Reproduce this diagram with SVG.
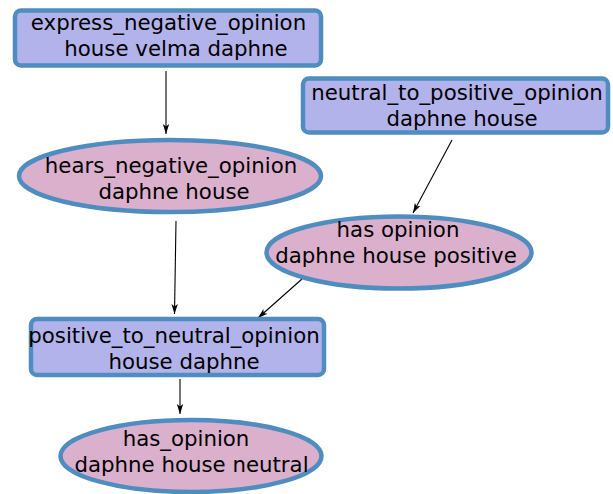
<svg xmlns="http://www.w3.org/2000/svg" width="613" height="494" viewBox="0 0 613 494">
<style>
.act{fill:#b3b3eb;stroke:#4f8cc0;stroke-width:4.5}
.st{fill:#dab0cc;stroke:#4f8cc0;stroke-width:4.5}
text{font-family:"DejaVu Sans",sans-serif;font-size:21.3px;fill:#000;text-anchor:middle}
.e{stroke:#000;stroke-width:1.1;fill:none;marker-end:url(#ah)}
</style>
<defs>
<marker id="ah" viewBox="0 0 10 8" refX="10" refY="4" markerWidth="10" markerHeight="8" markerUnits="userSpaceOnUse" orient="auto">
<path d="M0,0.8 L10,4 L0,7.2 L2.5,4 z" fill="#000"/>
</marker>
</defs>
<g id="edges">
<path class="e" d="M166,71 L166,134"/>
<path class="e" d="M176,221 L174.5,314"/>
<path class="e" d="M452,140 L413,213"/>
<path class="e" d="M302,279 L258,318"/>
<path class="e" d="M180,379 L180,414"/>
</g>
<g id="express_negative_opinion">
<rect class="act" x="15" y="10.5" width="306" height="55" rx="6"/>
<text x="168.5" y="30">express_negative_opinion</text>
<text x="176" y="56">house velma daphne</text>
</g>
<g id="neutral_to_positive_opinion">
<rect class="act" x="303" y="78.5" width="305" height="54" rx="6"/>
<text x="457" y="100">neutral_to_positive_opinion</text>
<text x="462" y="126">daphne house</text>
</g>
<g id="hears_negative_opinion">
<ellipse class="st" cx="170" cy="176" rx="151" ry="36"/>
<text x="171" y="173">hears_negative_opinion</text>
<text x="174" y="199">daphne house</text>
</g>
<g id="has_opinion_positive">
<ellipse class="st" cx="399" cy="252.5" rx="132.5" ry="36"/>
<text x="398" y="237">has opinion</text>
<text x="396" y="263">daphne house positive</text>
</g>
<g id="positive_to_neutral_opinion">
<rect class="act" x="31" y="319" width="293" height="56" rx="6"/>
<text x="174" y="343">positive_to_neutral_opinion</text>
<text x="184" y="369">house daphne</text>
</g>
<g id="has_opinion_neutral">
<ellipse class="st" cx="191" cy="456" rx="130.5" ry="36"/>
<text x="186" y="446">has_opinion</text>
<text x="191.5" y="472">daphne house neutral</text>
</g>
</svg>
